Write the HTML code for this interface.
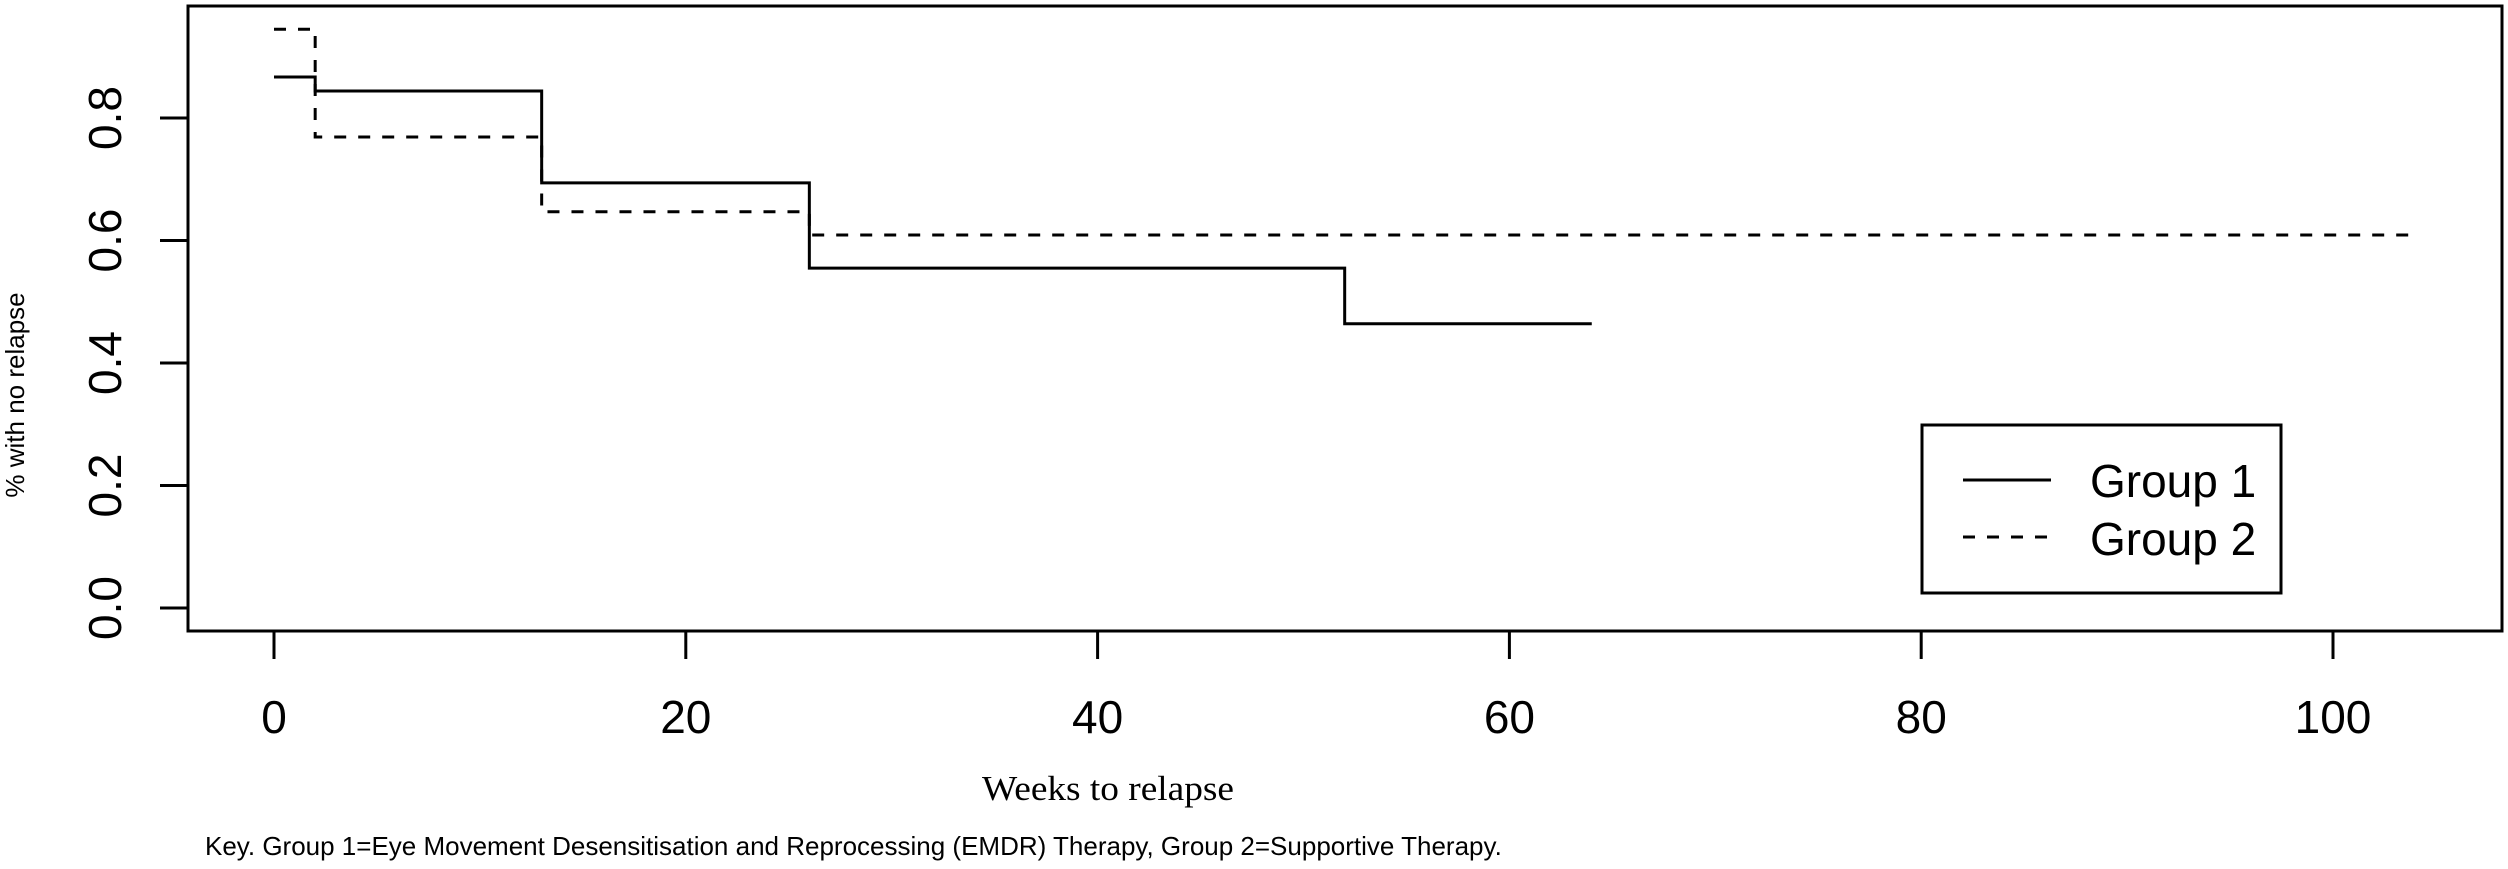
<!DOCTYPE html>
<html><head><meta charset="utf-8"><style>
html,body{margin:0;padding:0;background:#fff;}
svg{display:block;}
text{font-family:"Liberation Sans",sans-serif;fill:#000;}
</style></head><body>
<svg id="chart" width="2508" height="869" viewBox="0 0 2508 869" xmlns="http://www.w3.org/2000/svg">
<rect x="188" y="6" width="2314" height="625" fill="none" stroke="#000" stroke-width="3"/>
<g id="yticks"></g>
<g id="xticks"></g>
<g id="series"></g>
<text x="982" y="800" textLength="252" lengthAdjust="spacingAndGlyphs" style="font-family:'Liberation Serif',serif;font-size:35px">Weeks to relapse</text>
<text transform="translate(24,395) rotate(-90)" text-anchor="middle" style="font-size:26px">% with no relapse</text>
<text x="205" y="855" style="font-size:26px">Key. Group 1=Eye Movement Desensitisation and Reprocessing (EMDR) Therapy, Group 2=Supportive Therapy.</text>
<g>
<rect x="1922" y="425" width="359" height="168" fill="#fff" stroke="#000" stroke-width="3"/>
<line x1="1963" y1="480" x2="2051" y2="480" stroke="#000" stroke-width="3"/>
<line x1="1963" y1="537" x2="2051" y2="537" stroke="#000" stroke-width="3" stroke-dasharray="12,12"/>
<text x="2090" y="497" style="font-size:46px">Group 1</text>
<text x="2090" y="555" style="font-size:46px">Group 2</text>
</g>
</svg>
<script>
const xTicks = [0, 20, 40, 60, 80, 100];
const yTicks = [0.0, 0.2, 0.4, 0.6, 0.8];
const yTickLabels = ["0.0", "0.2", "0.4", "0.6", "0.8"];
const group1Times = [0, 2, 13, 26, 52, 64];
const group1Surv = [0.867, 0.844, 0.694, 0.555, 0.464, 0.464];
const group2Times = [0, 2, 13, 26, 104];
const group2Surv = [0.945, 0.769, 0.647, 0.609, 0.609];

const NS = "http://www.w3.org/2000/svg";
function xs(v){ return 274 + v * 20.59; }
function ys(v){ return 608 - v * 612.5; }
function mk(tag, attrs){ const e = document.createElementNS(NS, tag); for (const k in attrs) e.setAttribute(k, attrs[k]); return e; }

const yg = document.getElementById('yticks');
yTicks.forEach((t, i) => {
  const y = ys(t);
  const l = mk('line', {x1:160, y1:y, x2:188, y2:y, stroke:'#000', 'stroke-width':3});
  
  
  yg.appendChild(l);
  const tx = mk('text', {transform:'translate(121,' + y + ') rotate(-90)', 'text-anchor':'middle', style:'font-size:46px'});
  
  
  tx.textContent = yTickLabels[i];
  yg.appendChild(tx);
});
const xg = document.getElementById('xticks');
xTicks.forEach(t => {
  const x = xs(t);
  const l = mk('line', {x1:x, y1:631, x2:x, y2:659, stroke:'#000', 'stroke-width':3});
  
  
  xg.appendChild(l);
  const tx = mk('text', {x:x, y:733, 'text-anchor':'middle', style:'font-size:46px'});
  
  
  tx.textContent = String(t);
  xg.appendChild(tx);
});
function stepPath(ts, ss){
  let d = 'M' + xs(ts[0]) + ',' + ys(ss[0]);
  for (let i = 1; i < ts.length; i++){
    d += ' H' + xs(ts[i]) + ' V' + ys(ss[i]);
  }
  return d;
}
const sg = document.getElementById('series');
const p1 = mk('path', {d:stepPath(group1Times, group1Surv), fill:'none', stroke:'#000', 'stroke-width':3});


sg.appendChild(p1);
const p2 = mk('path', {d:stepPath(group2Times, group2Surv), fill:'none', stroke:'#000', 'stroke-width':3, 'stroke-dasharray':'12,12'});


sg.appendChild(p2);
</script>
</body></html>
